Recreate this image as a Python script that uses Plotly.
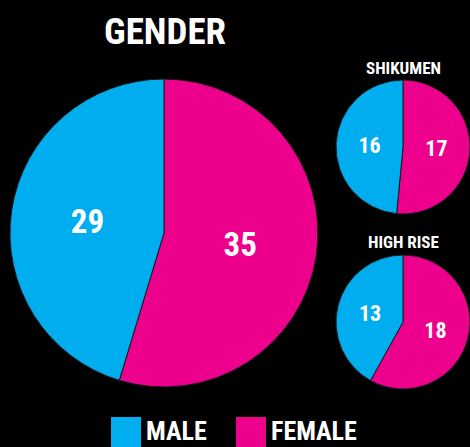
import plotly.graph_objects as go

# Respondent counts (slices are listed female first so that, going clockwise
# from 12 o'clock, female fills the right side and male the left)
slice_labels = ["FEMALE", "MALE"]
gender_total = [35, 29]
shikumen = [17, 16]
high_rise = [18, 13]
titles = ["GENDER", "SHIKUMEN", "HIGH RISE"]
legend_labels = ["MALE", "FEMALE"]

slice_colors = {"MALE": "#00AEEF", "FEMALE": "#EC008C"}
FONT = "Roboto Condensed, DejaVu Sans Condensed"
W, H = 470, 447


def font(size):
    return dict(family=FONT, size=size, color="white", weight="bold")


def px_domain(x0, x1, y0, y1):
    """Convert pixel box (top-left origin) to paper domain."""
    return dict(x=[x0 / W, x1 / W], y=[1 - y1 / H, 1 - y0 / H])


def pie(values, domain, size):
    return go.Pie(
        labels=slice_labels,
        values=values,
        domain=domain,
        sort=False,
        direction="clockwise",
        rotation=0,
        marker=dict(colors=[slice_colors[l] for l in slice_labels],
                    line=dict(color="#1a1a1a", width=1)),
        textinfo="value",
        textposition="inside",
        insidetextorientation="horizontal",
        textfont=font(size),
        hoverinfo="label+value",
        showlegend=False,
    )


fig = go.Figure()
fig.add_trace(pie(gender_total, px_domain(10, 318, 79, 387), 33))
fig.add_trace(pie(shikumen, px_domain(336, 470, 80, 214), 22))
fig.add_trace(pie(high_rise, px_domain(336, 470, 255, 389), 22))

# Chart titles
title_pos = [(165, 32, 37), (403, 68, 17), (403, 242, 17)]
for t, (x, y, s) in zip(titles, title_pos):
    fig.add_annotation(
        x=x / W, y=1 - y / H, xref="paper", yref="paper",
        text=t, showarrow=False, xanchor="center", yanchor="middle",
        font=font(s),
    )

# Legend drawn as colored squares with labels
legend_x = [111, 236]
for lab, x in zip(legend_labels, legend_x):
    fig.add_shape(
        type="rect", xref="paper", yref="paper",
        x0=x / W, x1=(x + 30) / W, y0=1 - 447 / H, y1=1 - 417 / H,
        fillcolor=slice_colors[lab], line=dict(width=0),
    )
    fig.add_annotation(
        x=(x + 33) / W, y=1 - 431 / H, xref="paper", yref="paper",
        text=lab, showarrow=False, xanchor="left", yanchor="middle",
        font=font(26),
    )

fig.update_layout(
    width=W, height=H,
    margin=dict(l=0, r=0, t=0, b=0),
    paper_bgcolor="black", plot_bgcolor="black",
)

fig.write_html("out.html")
